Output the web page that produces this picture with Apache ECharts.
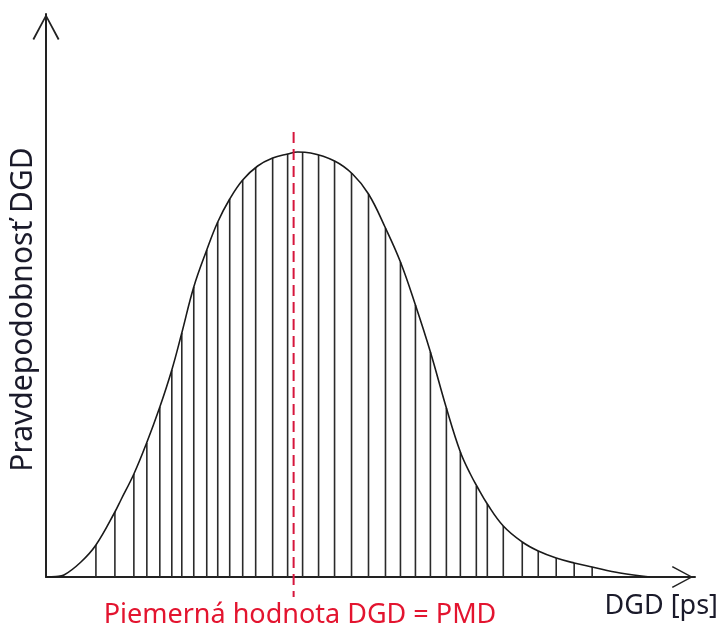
<!DOCTYPE html>
<html>
<head>
<meta charset="utf-8">
<script src="https://cdn.jsdelivr.net/npm/echarts@6/dist/echarts.min.js"></script>
<style>html,body{margin:0;padding:0;background:#fff}#c{width:723px;height:635px}</style>
</head>
<body>
<div id="c"></div>
<script>
// Curve of the DGD probability density (arbitrary units)
const curveX = [0, 10, 18, 35, 50, 69, 75, 88, 100, 114, 126, 136, 148, 161, 172, 184, 197, 212, 227, 242, 252, 265, 289, 307, 323, 340, 355, 370, 385, 401, 415, 425, 432, 442, 458, 477, 493, 511, 529, 547, 575, 605];
const curveY = [0, 0.5, 2, 15, 32, 65, 77, 103, 132, 170, 207, 244, 290, 327, 355, 378, 397, 411, 419, 423, 425, 424, 416, 403, 383, 349, 315, 272, 225, 169, 125, 103, 90, 73, 51, 35, 26, 19, 14, 10, 4, 0];
// Hatch lines under the curve
const hatchX = [50, 69, 88, 101, 114, 126, 136, 148, 161, 172, 184, 197, 210, 227, 242, 257, 273, 289, 306, 323, 340, 355, 370, 385, 401, 415, 431, 442, 458, 477, 493, 511, 529, 547];
const hatchY = [32, 65, 103, 134, 170, 207, 244, 290, 327, 355, 378, 397, 410, 419, 423, 425, 422, 416, 404, 383, 349, 315, 272, 225, 169, 125, 91, 73, 51, 35, 26, 19, 14, 10];
// Mean value marker (PMD)
const pmdX = 248;
const pmdRange = [445, -20];
const xName = 'DGD [ps]';
const yName = 'Pravdepodobnosť DGD';
const pmdLabel = 'Piemerná hodnota DGD = PMD';

const chevron = 'path://M0,26 L14,0 L28,26 L26.3,27 L14,3.6 L1.7,27 Z';
const chart = echarts.init(document.getElementById('c'), null, {renderer: 'canvas'});
const font = 'Noto Sans';
chart.setOption({
  animation: false,
  backgroundColor: '#ffffff',
  grid: {left: 45, right: 28, top: 14, bottom: 58, containLabel: false},
  xAxis: {
    type: 'value', min: 0, max: 650,
    axisLine: {show: true, lineStyle: {color: '#222', width: 2}, symbol: ['none', chevron], symbolSize: [22, 25], symbolOffset: [0, -12.5]},
    axisTick: {show: false}, axisLabel: {show: false}, splitLine: {show: false},
    name: xName, nameLocation: 'end', nameGap: 23,
    nameTextStyle: {fontFamily: font, fontSize: 27, color: '#1a1a2a', align: 'right', verticalAlign: 'top', padding: [16, 0, 0, 0]}
  },
  yAxis: {
    type: 'value', min: 0, max: 563,
    axisLine: {show: true, lineStyle: {color: '#222', width: 2}, symbol: ['none', chevron], symbolSize: [30, 26], symbolOffset: [0, -13]},
    axisTick: {show: false}, axisLabel: {show: false}, splitLine: {show: false},
    name: yName, nameLocation: 'middle', nameRotate: 90, nameGap: 8,
    nameTextStyle: {fontFamily: font, fontSize: 30, color: '#1a1a2a', padding: [0, 28, 0, 0]}
  },
  series: [
    {
      type: 'bar', barWidth: 1.6, silent: true, z: 1,
      itemStyle: {color: '#2a2a2a'},
      data: hatchX.map((x, i) => [x, hatchY[i]])
    },
    {
      type: 'line', smooth: 0.4, symbol: 'none', silent: true, z: 3,
      lineStyle: {color: '#1a1a1a', width: 1.6},
      data: curveX.map((x, i) => [x, curveY[i]])
    },
    {
      type: 'line', symbol: 'none', silent: true, z: 4, clip: false,
      lineStyle: {color: '#d6163c', width: 2, type: [11, 6]},
      data: pmdRange.map(y => [pmdX, y])
    }
  ],
  graphic: [{
    type: 'text', x: 300, y: 615,
    style: {text: pmdLabel, fontFamily: font, fontSize: 27, fill: '#e3142f', align: 'center', verticalAlign: 'middle'}
  }]
});
</script>
</body>
</html>
